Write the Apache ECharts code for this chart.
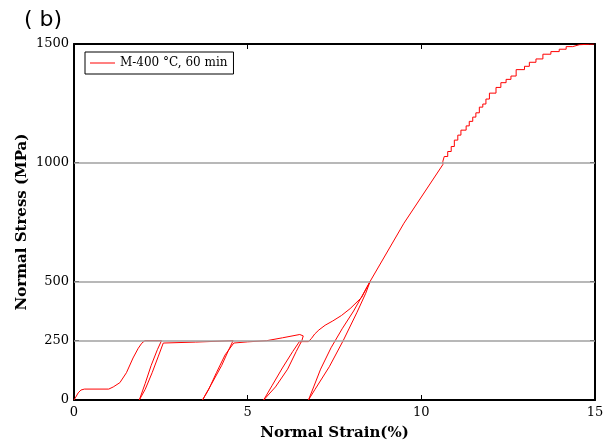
<!DOCTYPE html>
<html>
<head>
<meta charset="utf-8">
<script src="https://cdn.jsdelivr.net/npm/echarts@6/dist/echarts.min.js"></script>
<style>
  html, body { margin: 0; padding: 0; background: #fff; }
  #chart { width: 608px; height: 446px; }
</style>
</head>
<body>
<div id="chart"></div>
<script>
// strain (%) / stress (MPa) pairs, in load order
const loadingPath = [
    [0, 0], [0.05, 12], [0.12, 30], [0.2, 42], [0.3, 46], [1.0, 46],
    [1.13, 55], [1.32, 73], [1.51, 115], [1.7, 177], [1.85, 218], [1.95, 239], [2.04, 250],
    [2.52, 250],
    // unload / reload 1
    [2.4, 212], [2.22, 145], [2.05, 70], [1.88, 0],
    [2.05, 45], [2.25, 115], [2.43, 185], [2.57, 240],
    [3.5, 244], [4.58, 250],
    // unload / reload 2
    [4.45, 210], [4.25, 145], [3.95, 65], [3.7, 0],
    [3.88, 45], [4.1, 115], [4.35, 190], [4.6, 240],
    [5.0, 245], [5.55, 250], [6.0, 262], [6.5, 276], [6.6, 270], [6.56, 250],
    // unload / reload 3
    [6.4, 205], [6.15, 130], [5.8, 55], [5.46, 0],
    [5.7, 60], [6.0, 135], [6.3, 205], [6.49, 246], [6.75, 246],
    [6.84, 260], [6.93, 278], [7.05, 295], [7.23, 315], [7.45, 333], [7.7, 356],
    [7.95, 385], [8.28, 432], [8.53, 501],
    // unload / reload 4
    [8.3, 440], [8.05, 375], [7.72, 300], [7.4, 220], [7.1, 130], [6.9, 55], [6.75, 0],
    [6.94, 45], [7.35, 140], [7.75, 250], [8.15, 370], [8.4, 450], [8.53, 501],
    [9.5, 745], [10.62, 992]
];
const hardeningSteps = [
    [10.62, 992], [10.66, 1006], [10.76, 1026], [10.86, 1047], [10.95, 1068], [11.05, 1095],
    [11.14, 1116], [11.29, 1137], [11.38, 1155], [11.48, 1174], [11.57, 1192], [11.67, 1210],
    [11.77, 1234], [11.86, 1247], [11.96, 1268], [12.15, 1293], [12.29, 1317], [12.44, 1337],
    [12.58, 1351], [12.73, 1365], [12.97, 1392], [13.11, 1406], [13.3, 1423], [13.5, 1437],
    [13.73, 1457], [13.97, 1468], [14.17, 1478], [14.36, 1489], [14.55, 1497], [14.84, 1499],
    [14.97, 1500]
];
const yLabelValues = [0, 250, 500, 1000, 1500];
const gridValues = [250, 500, 1000];
const seriesName = 'M-400 °C, 60 min';

const SERIF = 'DejaVu Serif';
const chart = echarts.init(document.getElementById('chart'), null, { renderer: 'canvas' });

const frameLine = { show: true, onZero: false, lineStyle: { color: '#000', width: 2 } };
const inTick = { show: true, inside: true, length: 5, lineStyle: { color: '#000' } };

chart.setOption({
    backgroundColor: '#fff',
    animation: false,
    title: {
        text: '( b)',
        left: 19,
        top: 4,
        textStyle: { fontFamily: 'DejaVu Sans', fontSize: 22, fontWeight: 'normal', color: '#000' }
    },
    legend: {
        data: [seriesName],
        left: 85,
        top: 52,
        icon: 'rect',
        itemWidth: 25,
        itemHeight: 1,
        itemGap: 5,
        padding: [5, 6, 5, 5],
        borderColor: '#000',
        borderWidth: 1,
        textStyle: { fontFamily: SERIF, fontSize: 12, color: '#000' }
    },
    grid: { left: 74, right: 13, top: 44, bottom: 40 },
    xAxis: [
        {
            type: 'value', min: 0, max: 15, interval: 5,
            name: 'Normal Strain(%)', nameLocation: 'middle', nameGap: 26,
            nameTextStyle: { fontFamily: SERIF, fontSize: 15, fontWeight: 'bold', color: '#000' },
            axisLine: frameLine, axisTick: inTick,
            axisLabel: { fontFamily: SERIF, fontSize: 13, color: '#000', margin: 6 },
            splitLine: { show: false }
        },
        {
            type: 'value', position: 'top', min: 0, max: 15, interval: 5,
            axisLine: frameLine, axisTick: inTick,
            axisLabel: { show: false }, splitLine: { show: false }
        }
    ],
    yAxis: [
        {
            type: 'value', min: 0, max: 1500, interval: 250,
            name: 'Normal Stress (MPa)', nameLocation: 'middle', nameGap: 44,
            nameMoveOverlap: false,
            nameTextStyle: { fontFamily: SERIF, fontSize: 15, fontWeight: 'bold', color: '#000' },
            axisLine: frameLine,
            axisTick: { ...inTick, customValues: yLabelValues },
            axisLabel: {
                fontFamily: SERIF, fontSize: 13, color: '#000', margin: 5,
                customValues: yLabelValues,
                formatter: v => String(v)
            },
            splitLine: { show: false }
        },
        {
            type: 'value', position: 'right', min: 0, max: 1500, interval: 250,
            axisLine: frameLine,
            axisTick: { ...inTick, customValues: yLabelValues },
            axisLabel: { show: false }, splitLine: { show: false }
        }
    ],
    series: [
        {
            name: seriesName,
            type: 'line',
            data: loadingPath,
            showSymbol: false,
            symbol: 'none',
            lineStyle: { color: '#ff0000', width: 1 },
            itemStyle: { color: '#ff0000' },
            markLine: {
                silent: true,
                symbol: 'none',
                label: { show: false },
                lineStyle: { color: '#a0a0a0', width: 1.5, type: 'solid' },
                data: gridValues.map(v => ({ yAxis: v }))
            },
            z: 3
        },
        {
            name: seriesName,
            type: 'line',
            step: 'start',
            data: hardeningSteps,
            showSymbol: false,
            symbol: 'none',
            lineStyle: { color: '#ff0000', width: 1 },
            itemStyle: { color: '#ff0000' },
            z: 3
        }
    ]
});
</script>
</body>
</html>
